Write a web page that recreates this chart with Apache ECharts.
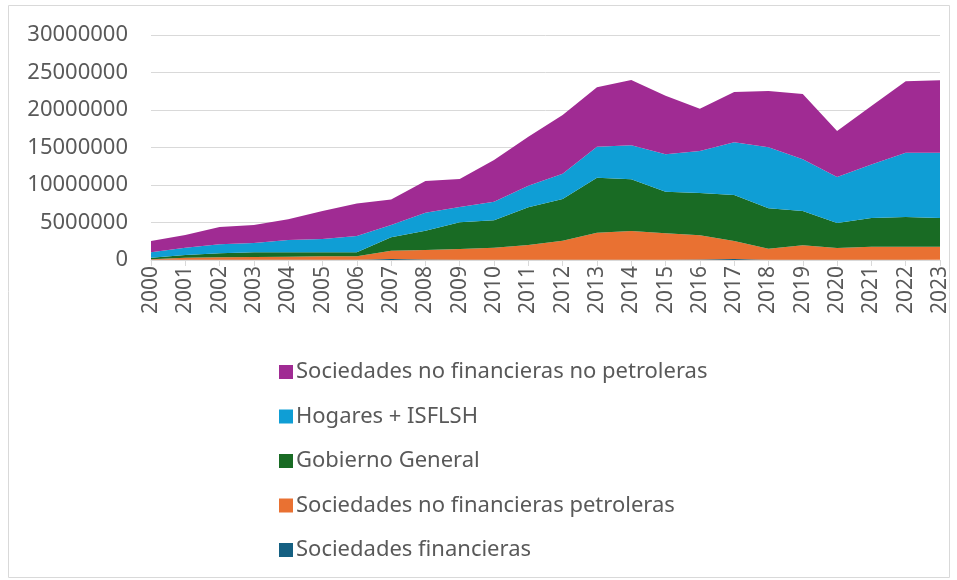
<!DOCTYPE html>
<html>
<head>
<meta charset="utf-8">
<script src="https://cdn.jsdelivr.net/npm/echarts@6/dist/echarts.min.js"></script>
<style>
  html, body { margin: 0; padding: 0; background: #fff; }
  #main { width: 957px; height: 580px; }
</style>
</head>
<body>
<div id="main"></div>
<script>
var years = ['2000', '2001', '2002', '2003', '2004', '2005', '2006', '2007', '2008', '2009', '2010', '2011',
    '2012', '2013', '2014', '2015', '2016', '2017', '2018', '2019', '2020', '2021', '2022', '2023'];

var financieras = [30000, 30000, 30000, 30000, 30000, 30000, 30000, 150000, 60000, 40000, 30000, 30000,
    30000, 30000, 30000, 30000, 60000, 120000, 40000, 30000, 30000, 30000, 30000, 30000];
var petroleras = [70000, 280000, 330000, 370000, 420000, 460000, 470000, 1090000, 1270000, 1430000, 1610000, 1970000,
    2550000, 3610000, 3840000, 3530000, 3230000, 2410000, 1470000, 1930000, 1570000, 1750000, 1750000, 1750000];
var gobierno = [210000, 360000, 530000, 620000, 570000, 530000, 520000, 1780000, 2580000, 3550000, 3650000, 5020000,
    5550000, 7340000, 6890000, 5550000, 5640000, 6140000, 5380000, 4570000, 3330000, 3820000, 3950000, 3820000];
var hogares = [710000, 980000, 1200000, 1250000, 1650000, 1780000, 2180000, 1650000, 2400000, 2050000, 2490000, 2890000,
    3380000, 4130000, 4530000, 4980000, 5600000, 7020000, 8130000, 6890000, 6140000, 7150000, 8580000, 8710000];
var noPetroleras = [1510000, 1680000, 2310000, 2400000, 2750000, 3730000, 4350000, 3410000, 4220000, 3730000, 5550000, 6530000,
    7820000, 7910000, 8710000, 7810000, 5650000, 6710000, 7510000, 8710000, 6130000, 7780000, 9510000, 9650000];

var yTicks = [0, 5000000, 10000000, 15000000, 20000000, 25000000, 30000000];

var seriesDefs = [
    { name: 'Sociedades financieras', data: financieras, color: '#156082' },
    { name: 'Sociedades no financieras petroleras', data: petroleras, color: '#E97132' },
    { name: 'Gobierno General', data: gobierno, color: '#196B24' },
    { name: 'Hogares + ISFLSH', data: hogares, color: '#0F9ED5' },
    { name: 'Sociedades no financieras no petroleras', data: noPetroleras, color: '#A02B93' }
];

var txt = '#595959';
var font = '"Noto Sans", "Open Sans", sans-serif';

var chart = echarts.init(document.getElementById('main'));
chart.setOption({
    animation: false,
    textStyle: { fontFamily: font },
    graphic: [{
        type: 'rect',
        shape: { x: 8.5, y: 5.5, width: 941, height: 572 },
        style: { fill: 'none', stroke: '#d9d9d9', lineWidth: 1 },
        silent: true
    }],
    grid: { left: 151, right: 17, top: 35, bottom: 320, containLabel: false },
    legend: {
        orient: 'vertical',
        left: 274,
        top: 355,
        itemGap: 20.5,
        itemWidth: 14,
        itemHeight: 14,
        icon: 'rect',
        data: seriesDefs.map(function(s) { return s.name; }).reverse(),
        textStyle: { color: txt, fontSize: 22, lineHeight: 24, fontFamily: font, padding: [0, 0, 0, -2] }
    },
    xAxis: {
        type: 'category',
        data: years,
        boundaryGap: false,
        axisLine: { lineStyle: { color: '#d9d9d9', width: 1 } },
        axisTick: { show: true, length: 6, lineStyle: { color: '#d9d9d9' } },
        axisLabel: { rotate: 90, color: txt, fontSize: 21, margin: 6, fontFamily: font }
    },
    yAxis: {
        type: 'value',
        min: yTicks[0],
        max: yTicks[yTicks.length - 1],
        interval: 5000000,
        axisLine: { show: false },
        axisTick: { show: false },
        splitLine: { lineStyle: { color: '#d9d9d9', width: 1 } },
        axisLabel: {
            color: txt, fontSize: 22, margin: 23, fontFamily: font,
            formatter: function(v) { return String(v); }
        }
    },
    series: seriesDefs.map(function(s) {
        return {
            name: s.name,
            type: 'line',
            stack: 'total',
            data: s.data,
            symbol: 'none',
            showSymbol: false,
            itemStyle: { color: s.color },
            lineStyle: { width: 0 },
            areaStyle: { color: s.color, opacity: 1 }
        };
    })
});
</script>
</body>
</html>
